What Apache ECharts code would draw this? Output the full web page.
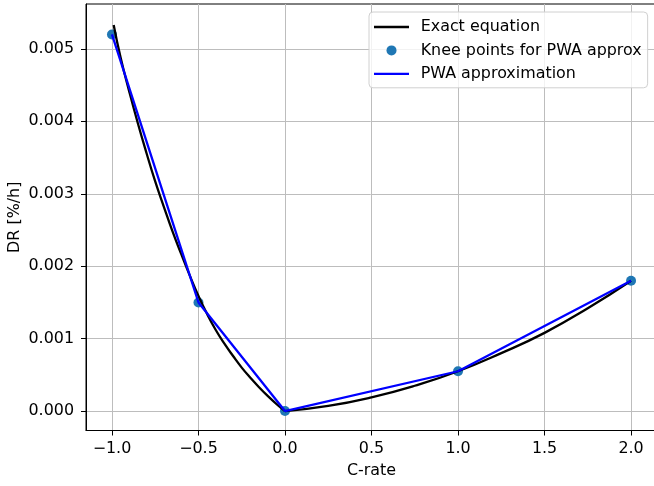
<!DOCTYPE html>
<html>
<head>
<meta charset="utf-8">
<script src="https://cdn.jsdelivr.net/npm/echarts@6/dist/echarts.min.js"></script>
<style>
html,body{margin:0;padding:0;background:#fff;}
#chart{width:654px;height:486px;}
</style>
</head>
<body>
<div id="chart"></div>
<script>
// Exact equation curve: discharge side and charge side
const exactXNeg = [-0.99, -0.95, -0.9, -0.85, -0.8, -0.75, -0.7, -0.65, -0.6, -0.55, -0.5, -0.45, -0.4, -0.35, -0.3, -0.25, -0.2, -0.15, -0.1, -0.05, 0];
const exactYNeg = [0.00533, 0.00488, 0.00441, 0.00397, 0.00356, 0.00317, 0.00282, 0.00248, 0.00217, 0.00187, 0.00159, 0.00134, 0.00112, 0.00093, 0.00076, 0.00060, 0.00046, 0.00033, 0.00021, 0.00010, 0];
const exactXPos = [0, 0.25, 0.5, 0.75, 1.0, 1.25, 1.5, 1.75, 2.0];
const exactYPos = [0, 0.000072, 0.00019, 0.00035, 0.00055, 0.00080, 0.00108, 0.00142, 0.0018];
// Knee points
const kneeX = [-1.0, -0.5, 0.0, 1.0, 2.0];
const kneeY = [0.0052, 0.0015, 0.0, 0.00055, 0.0018];
// Tick labels
const xTicks = [-1.0, -0.5, 0.0, 0.5, 1.0, 1.5, 2.0];
const yTicks = [0.000, 0.001, 0.002, 0.003, 0.004, 0.005];

const exactNeg = exactXNeg.map((x, i) => [x, exactYNeg[i]]);
const exactPos = exactXPos.map((x, i) => [x, exactYPos[i]]);
const kneeData = kneeX.map((x, i) => [x, kneeY[i]]);

const FONT = 'DejaVu Sans';
const FS = 15.9;
// thin horizontal line legend icon (tiny corner dots keep the box size)
const LINE_ICON = 'path://M0,0h0.01v0.01h-0.01z M0,3.85H35V6.15H0z M34.99,9.99h0.01v0.01h-0.01z';

const exactStyle = {
  name: 'Exact equation', type: 'line', smooth: 0.5,
  symbol: 'none', lineStyle: {color: '#000', width: 2.3}, itemStyle: {color: '#000'}, z: 2
};

const chart = echarts.init(document.getElementById('chart'), null, {renderer: 'canvas'});
chart.setOption({
  animation: false,
  backgroundColor: '#ffffff',
  textStyle: {fontFamily: FONT},
  grid: {left: 86, top: 4, right: -3, bottom: 55.5, containLabel: false, outerBoundsMode: 'none',
         show: true, borderColor: '#000', borderWidth: 1, backgroundColor: 'transparent'},
  legend: {
    orient: 'vertical',
    left: 369, top: 12,
    padding: [6, 6, 5, 5],
    itemWidth: 35, itemHeight: 10, itemGap: 5.4,
    backgroundColor: 'rgba(255,255,255,0.8)',
    borderColor: '#d0d0d0', borderWidth: 1, borderRadius: 4,
    textStyle: {fontFamily: FONT, fontSize: FS, lineHeight: 18, color: '#000', padding: [0, 0, 0, 6.7]},
    data: [
      {name: 'Exact equation', icon: LINE_ICON},
      {name: 'Knee points for PWA approx', icon: 'circle'},
      {name: 'PWA approximation', icon: LINE_ICON}
    ]
  },
  xAxis: {
    type: 'value', min: -1.15, max: 2.15,
    name: 'C-rate', nameLocation: 'middle', nameGap: 32, nameMoveOverlap: false,
    nameTextStyle: {fontFamily: FONT, fontSize: FS, color: '#000'},
    axisLine: {show: true, onZero: false, lineStyle: {color: '#000', width: 1}},
    axisTick: {show: true, length: 5, lineStyle: {color: '#000', width: 1}, customValues: xTicks},
    axisLabel: {fontFamily: FONT, fontSize: FS, color: '#000', margin: 10, customValues: xTicks,
      formatter: v => (v < 0 ? '\u2212' : '') + Math.abs(v).toFixed(1)},
    splitLine: {show: true, lineStyle: {color: '#bdbdbd', width: 1}}
  },
  yAxis: {
    type: 'value', min: -0.000268, max: 0.00562,
    name: 'DR [%/h]', nameLocation: 'middle', nameGap: 63.5, nameRotate: 90, nameMoveOverlap: false,
    nameTextStyle: {fontFamily: FONT, fontSize: FS, color: '#000'},
    axisLine: {show: true, onZero: false, lineStyle: {color: '#000', width: 1}},
    axisTick: {show: true, length: 5, lineStyle: {color: '#000', width: 1}, customValues: yTicks},
    axisLabel: {fontFamily: FONT, fontSize: FS, color: '#000', margin: 12, customValues: yTicks,
      formatter: v => v.toFixed(3)},
    splitLine: {show: true, lineStyle: {color: '#bdbdbd', width: 1}}
  },
  series: [
    {
      name: 'Knee points for PWA approx', type: 'scatter', data: kneeData,
      symbolSize: 10, itemStyle: {color: '#1f77b4', opacity: 1}, z: 1
    },
    Object.assign({}, exactStyle, {data: exactNeg}),
    Object.assign({}, exactStyle, {data: exactPos}),
    {
      name: 'PWA approximation', type: 'line', data: kneeData,
      symbol: 'none', lineStyle: {color: '#0000ff', width: 2.3}, itemStyle: {color: '#0000ff'}, z: 3
    }
  ]
});
</script>
</body>
</html>
